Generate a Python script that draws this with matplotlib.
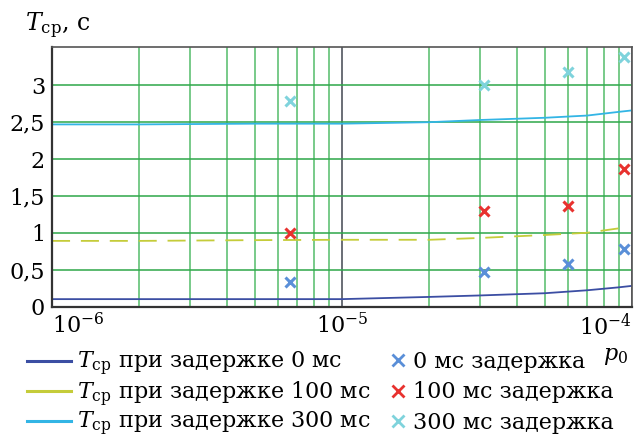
import numpy as np
import matplotlib.pyplot as plt
from matplotlib.lines import Line2D
from matplotlib.ticker import FixedLocator, FixedFormatter, LogLocator, NullFormatter

plt.rcParams['font.family'] = 'DejaVu Serif'
plt.rcParams['mathtext.fontset'] = 'dejavuserif'

# curves: T_cp vs p0
p_curve = [1e-6, 2e-6, 5e-6, 1e-5, 2e-5, 3e-5, 5e-5, 7e-5, 9e-5, 1e-4]
t_0ms = [0.10, 0.10, 0.10, 0.10, 0.13, 0.15, 0.18, 0.22, 0.26, 0.28]
t_300ms = [2.47, 2.47, 2.48, 2.48, 2.50, 2.53, 2.56, 2.59, 2.64, 2.66]
p_curve100 = [1e-6, 2e-6, 5e-6, 1e-5, 2e-5, 3e-5, 5e-5, 7e-5, 9e-5, 9.4e-5]
t_100ms = [0.89, 0.89, 0.90, 0.905, 0.905, 0.93, 0.97, 1.00, 1.06, 1.07]

# measured points
p_meas = [6.6e-6, 3.1e-5, 6.0e-5, 9.4e-5]
m_0ms = [0.33, 0.47, 0.57, 0.78]
m_100ms = [1.00, 1.29, 1.37, 1.87]
m_300ms = [2.79, 3.01, 3.18, 3.39]

yticks = [0, 0.5, 1, 1.5, 2, 2.5, 3]
ytick_labels = ['0', '0,5', '1', '1,5', '2', '2,5', '3']

c_line0, c_line100, c_line300 = '#3b4ea3', '#c5cc3a', '#33b5e5'
c_m0, c_m100, c_m300 = '#5a8fd8', '#e8322f', '#7fd3dc'

fig = plt.figure(figsize=(6.36, 4.37), dpi=100)
ax = fig.add_axes([52/636, 1-306.5/437, 580/636, (306.5-47)/437])

ax.set_xscale('log')
ax.set_xlim(1e-6, 1e-4)
ax.set_ylim(0, 3.52)

# grid
ax.xaxis.set_major_locator(LogLocator(base=10, numticks=10))
ax.xaxis.set_minor_locator(LogLocator(base=10, subs=np.arange(2, 10), numticks=20))
ax.xaxis.set_minor_formatter(NullFormatter())
ax.yaxis.set_major_locator(FixedLocator(yticks))
ax.yaxis.set_major_formatter(FixedFormatter(ytick_labels))
ax.grid(True, which='major', axis='y', color='#2fa84a', lw=1.3, alpha=0.85)
ax.grid(True, which='minor', axis='x', color='#3cb356', lw=1.3, alpha=0.75)
ax.grid(True, which='major', axis='x', color='#50555f', lw=1.2)
ax.set_axisbelow(True)

ax.plot(p_curve, t_0ms, color=c_line0, lw=1.3)
ax.plot(p_curve100, t_100ms, color=c_line100, lw=1.3, dashes=(10, 6))
ax.plot(p_curve, t_300ms, color=c_line300, lw=1.3)

ax.plot(p_meas, m_0ms, 'x', color=c_m0, ms=7, mew=2.2)
ax.plot(p_meas, m_100ms, 'x', color=c_m100, ms=7, mew=2.2)
ax.plot(p_meas, m_300ms, 'x', color=c_m300, ms=7, mew=2.2)

ax.tick_params(which='both', length=0, labelsize=16, pad=5)
fig.canvas.draw()
fmt = ax.xaxis.get_major_formatter()
for lab in ax.get_xticklabels():
    if lab.get_text() == fmt(1e-6, 0):
        lab.set_ha('left')
    elif lab.get_text() == fmt(1e-4, 0):
        lab.set_ha('right')

for s in ['left', 'bottom']:
    ax.spines[s].set_color('#333333')
    ax.spines[s].set_linewidth(1.6)
for s in ['top', 'right']:
    ax.spines[s].set_color('#555555')
    ax.spines[s].set_linewidth(1.2)

fig.text(25/636, 1-31/437, r'$T_{\mathrm{ср}}$, с', fontsize=17, va='baseline', ha='left')
fig.text(603/636, 1-360/437, r'$p_0$', fontsize=16, va='baseline', ha='left')

line_handles = [
    Line2D([], [], color=c_line0, lw=2.2),
    Line2D([], [], color=c_line100, lw=2.2),
    Line2D([], [], color=c_line300, lw=2.2),
]
line_labels = [r'$T_{\mathrm{ср}}$ при задержке 0 мс',
               r'$T_{\mathrm{ср}}$ при задержке 100 мс',
               r'$T_{\mathrm{ср}}$ при задержке 300 мс']
mark_handles = [
    Line2D([], [], ls='none', marker='x', color=c_m0, ms=9, mew=2),
    Line2D([], [], ls='none', marker='x', color=c_m100, ms=9, mew=2),
    Line2D([], [], ls='none', marker='x', color=c_m300, ms=9, mew=2),
]
mark_labels = ['0 мс задержка', '100 мс задержка', '300 мс задержка']

leg1 = fig.legend(line_handles, line_labels, loc='upper left',
                  bbox_to_anchor=(27/636, 1-350/437), frameon=False,
                  fontsize=16, handlelength=2.0, handletextpad=0.27,
                  labelspacing=0.06, borderpad=0, borderaxespad=0)
leg2 = fig.legend(mark_handles, mark_labels, loc='upper left',
                  bbox_to_anchor=(389/636, 1-351/437), frameon=False,
                  fontsize=16, handlelength=0.8, handletextpad=0.27,
                  labelspacing=0.38, borderpad=0, borderaxespad=0)

fig.savefig('out.png', dpi=100)
